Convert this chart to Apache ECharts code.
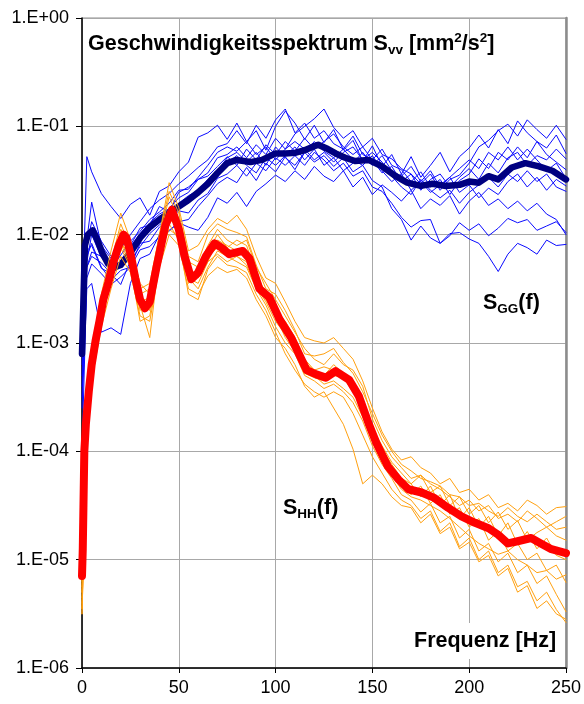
<!DOCTYPE html>
<html style="height: 100%">
<head>
<meta charset="utf-8">
</head>
<body style="height: 100%; margin: 0; background: #fff">
<div id="container" style="width: 584px; height: 704px"></div>
<script type="text/javascript" src="https://cdn.jsdelivr.net/npm/echarts@6.0.0/dist/echarts.min.js"></script>
<script type="text/javascript">
var yTickLabels = ['1.E+00', '1.E-01', '1.E-02', '1.E-03', '1.E-04', '1.E-05', '1.E-06'];

// frequency grid of the single measurements [Hz]
var freqThin = [0, 2.5, 5, 10, 15, 20, 25, 30, 35, 40, 45, 50, 55, 60, 65, 70, 75, 80, 85, 90, 95, 100,
    105, 110, 115, 120, 125, 130, 135, 140, 145, 150, 155, 160, 165, 170, 175, 180, 185, 190, 195, 200,
    205, 210, 215, 220, 225, 230, 235, 240, 245, 250];

// S_GG single runs (blue)
var sgg01 = [-2.8,-1.28,-1.42,-1.62,-1.74,-1.85,-1.72,-1.66,-1.82,-1.6,-1.55,-1.42,-1.33,-1.1,-1.06,-0.99,-1.12,-0.97,-1.14,-1.04,-1.22,-1.0,-0.86,-0.97,-1.12,-0.99,-1.15,-1.03,-1.22,-1.13,-1.32,-1.18,-1.37,-1.26,-1.44,-1.28,-1.47,-1.36,-1.24,-1.42,-1.28,-1.2,-1.08,-1.2,-1.03,-1.16,-0.95,-1.06,-1.14,-1.2,-1.08,-1.25];
var sgg02 = [-3.6,-2.5,-2.45,-2.9,-2.86,-2.92,-2.45,-2.22,-2.18,-2.0,-1.97,-1.88,-1.86,-1.74,-1.64,-1.53,-1.47,-1.52,-1.38,-1.5,-1.34,-1.42,-1.28,-1.4,-1.24,-1.33,-1.27,-1.37,-1.29,-1.42,-1.36,-1.5,-1.56,-1.76,-1.86,-2.05,-1.92,-2.03,-2.08,-1.99,-1.98,-2.04,-2.08,-2.2,-2.34,-2.18,-2.08,-2.12,-2.18,-2.05,-2.1,-2.09];
var sgg03 = [-3.2,-2.2,-2.08,-2.3,-2.42,-2.33,-2.3,-2.08,-2.06,-1.93,-1.86,-1.78,-1.8,-1.68,-1.62,-1.48,-1.44,-1.36,-1.46,-1.34,-1.41,-1.29,-1.36,-1.27,-1.36,-1.24,-1.31,-1.41,-1.34,-1.46,-1.41,-1.56,-1.6,-1.71,-1.84,-1.93,-1.87,-1.86,-2.08,-2.01,-1.89,-1.96,-1.9,-2.01,-1.94,-1.85,-1.89,-1.86,-1.96,-1.92,-1.88,-1.98];
var sgg04 = [-2.9,-2.1,-1.88,-2.06,-2.2,-2.13,-2.0,-1.88,-1.76,-1.68,-1.62,-1.53,-1.46,-1.38,-1.31,-1.19,-1.16,-1.04,-1.16,-0.99,-1.11,-0.94,-0.84,-1.06,-0.97,-1.11,-1.04,-1.16,-1.21,-1.09,-1.26,-1.31,-1.21,-1.36,-1.4,-1.51,-1.42,-1.56,-1.49,-1.63,-1.5,-1.44,-1.3,-1.39,-1.24,-1.31,-1.19,-1.29,-1.14,-1.26,-1.33,-1.4];
var sgg05 = [-3.4,-2.3,-2.16,-2.2,-2.32,-2.24,-2.11,-1.99,-1.89,-1.81,-1.76,-1.66,-1.61,-1.49,-1.43,-1.29,-1.26,-1.19,-1.29,-1.17,-1.26,-1.11,-1.21,-1.07,-1.0,-0.93,-0.84,-1.01,-1.11,-1.04,-1.19,-1.11,-1.26,-1.3,-1.39,-1.44,-1.53,-1.44,-1.59,-1.49,-1.45,-1.34,-1.19,-1.13,-1.04,-0.98,-1.09,-0.94,-1.03,-1.11,-0.99,-1.12];
var sgg06 = [-4.0,-2.4,-2.27,-2.36,-2.46,-2.39,-2.3,-2.14,-2.11,-2.02,-1.96,-1.89,-1.93,-1.96,-1.84,-1.66,-1.71,-1.61,-1.74,-1.6,-1.53,-1.45,-1.51,-1.41,-1.49,-1.37,-1.46,-1.51,-1.41,-1.56,-1.47,-1.63,-1.54,-1.61,-1.69,-1.59,-1.76,-1.67,-1.73,-1.64,-1.81,-1.69,-1.61,-1.73,-1.67,-1.76,-1.69,-1.78,-1.71,-1.81,-1.86,-2.0];
var sgg07 = [-3.0,-2.05,-1.7,-2.1,-2.22,-2.28,-2.1,-1.94,-1.91,-1.74,-1.79,-1.61,-1.56,-1.49,-1.46,-1.37,-1.28,-1.36,-1.21,-1.31,-1.17,-1.26,-1.14,-1.23,-1.11,-1.21,-1.14,-1.07,-1.19,-1.26,-1.19,-1.31,-1.43,-1.37,-1.51,-1.44,-1.59,-1.49,-1.44,-1.56,-1.47,-1.39,-1.49,-1.34,-1.43,-1.29,-1.24,-1.36,-1.27,-1.31,-1.21,-1.3];
var sgg08 = [-3.5,-2.3,-2.2,-2.26,-2.36,-2.29,-2.21,-2.04,-1.96,-1.87,-1.83,-1.74,-1.71,-1.59,-1.56,-1.47,-1.34,-1.27,-1.36,-1.43,-1.29,-1.36,-1.27,-1.19,-1.31,-1.21,-1.36,-1.29,-1.41,-1.34,-1.24,-1.36,-1.27,-1.41,-1.46,-1.37,-1.51,-1.41,-1.56,-1.47,-1.61,-1.54,-1.66,-1.57,-1.63,-1.51,-1.44,-1.56,-1.47,-1.59,-1.49,-1.55];
var sgg09 = [-2.7,-2.15,-2.1,-2.31,-2.36,-2.46,-2.24,-2.11,-1.99,-1.91,-1.84,-1.71,-1.64,-1.59,-1.49,-1.41,-1.29,-1.24,-1.33,-1.24,-1.36,-1.19,-1.29,-1.36,-1.24,-1.14,-1.23,-1.29,-1.21,-1.31,-1.36,-1.27,-1.41,-1.51,-1.44,-1.59,-1.51,-1.61,-1.54,-1.47,-1.39,-1.31,-1.39,-1.24,-1.31,-1.19,-1.31,-1.21,-1.31,-1.41,-1.34,-1.48];
var sgg10 = [-3.3,-2.25,-2.0,-2.21,-2.31,-2.19,-2.06,-1.97,-1.86,-1.79,-1.71,-1.59,-1.58,-1.47,-1.36,-1.24,-1.19,-1.23,-1.14,-1.26,-1.19,-1.31,-1.21,-1.14,-1.21,-1.31,-1.24,-1.33,-1.24,-1.19,-1.31,-1.24,-1.33,-1.46,-1.56,-1.63,-1.49,-1.59,-1.66,-1.59,-1.71,-1.61,-1.54,-1.47,-1.56,-1.44,-1.51,-1.41,-1.51,-1.44,-1.56,-1.6];

// S_HH single runs (orange)
var shh01 = [-5.3,-3.6,-3.05,-2.55,-2.15,-1.8,-2.05,-2.5,-2.45,-2.0,-1.52,-1.75,-2.15,-2.1,-1.95,-1.85,-1.9,-1.82,-1.95,-2.2,-2.4,-2.45,-2.62,-2.8,-2.95,-2.98,-3.0,-2.95,-3.05,-3.15,-3.35,-3.6,-3.82,-3.98,-4.08,-4.05,-4.15,-4.2,-4.3,-4.25,-4.38,-4.35,-4.45,-4.4,-4.52,-4.48,-4.55,-4.45,-4.5,-4.58,-4.52,-4.51];
var shh02 = [-5.5,-3.9,-3.35,-2.85,-2.5,-2.2,-2.35,-2.75,-2.8,-2.3,-2.0,-2.1,-2.5,-2.55,-2.38,-2.3,-2.35,-2.32,-2.4,-2.6,-2.75,-2.95,-3.05,-3.2,-3.4,-3.5,-3.45,-3.6,-3.75,-3.98,-4.3,-4.22,-4.3,-4.42,-4.5,-4.52,-4.66,-4.58,-4.76,-4.7,-4.9,-4.84,-5.02,-4.96,-5.15,-5.08,-5.3,-5.24,-5.45,-5.38,-5.5,-5.55];
var shh03 = [-5.2,-3.75,-3.25,-2.7,-2.35,-2.0,-2.2,-2.65,-2.95,-2.2,-1.75,-1.9,-2.35,-2.4,-2.15,-2.0,-2.12,-2.05,-2.1,-2.35,-2.55,-2.7,-2.8,-2.95,-3.15,-3.25,-3.3,-3.2,-3.28,-3.35,-3.55,-3.78,-3.95,-4.1,-4.2,-4.3,-4.22,-4.38,-4.32,-4.5,-4.42,-4.58,-4.5,-4.66,-4.56,-4.72,-4.64,-4.82,-4.75,-4.7,-4.78,-4.82];
var shh04 = [-5.45,-3.8,-3.3,-2.75,-2.4,-2.1,-2.15,-2.55,-2.7,-2.25,-1.85,-1.95,-2.4,-2.5,-2.3,-2.15,-2.2,-2.25,-2.3,-2.5,-2.65,-2.85,-3.0,-3.1,-3.3,-3.35,-3.42,-3.38,-3.45,-3.55,-3.72,-3.95,-4.12,-4.25,-4.4,-4.45,-4.56,-4.48,-4.66,-4.6,-4.8,-4.72,-4.92,-4.85,-5.02,-4.94,-5.12,-5.05,-5.22,-5.15,-5.32,-5.48];
var shh05 = [-5.35,-3.65,-3.15,-2.62,-2.3,-1.95,-2.1,-2.45,-2.55,-2.05,-1.65,-1.85,-2.25,-2.3,-2.1,-1.95,-2.05,-2.1,-2.05,-2.3,-2.45,-2.6,-2.75,-2.9,-3.05,-3.15,-3.2,-3.1,-3.2,-3.25,-3.4,-3.7,-3.9,-4.05,-4.15,-4.25,-4.22,-4.3,-4.35,-4.42,-4.5,-4.45,-4.55,-4.5,-4.62,-4.58,-4.65,-4.55,-4.62,-4.7,-4.65,-4.6];
var shh06 = [-5.4,-3.7,-3.2,-2.68,-2.38,-2.05,-2.25,-2.7,-2.6,-2.1,-1.8,-2.0,-2.45,-2.35,-2.2,-2.12,-2.18,-2.2,-2.25,-2.45,-2.6,-2.75,-2.95,-3.08,-3.28,-3.32,-3.35,-3.3,-3.32,-3.45,-3.62,-3.88,-4.05,-4.2,-4.32,-4.4,-4.32,-4.48,-4.4,-4.58,-4.52,-4.7,-4.62,-4.82,-4.74,-4.92,-4.85,-5.0,-4.94,-5.1,-5.05,-5.21];
var shh07 = [-5.25,-3.72,-3.22,-2.72,-2.32,-2.02,-2.2,-2.6,-2.65,-2.15,-1.78,-1.92,-2.3,-2.4,-2.25,-2.05,-2.1,-2.15,-2.2,-2.38,-2.55,-2.65,-2.82,-3.0,-3.18,-3.25,-3.22,-3.25,-3.3,-3.38,-3.58,-3.8,-3.98,-4.12,-4.25,-4.3,-4.42,-4.32,-4.5,-4.4,-4.62,-4.52,-4.7,-4.6,-4.78,-4.66,-4.86,-4.74,-4.9,-4.8,-4.96,-5.0];
var shh08 = [-5.5,-3.85,-3.28,-2.78,-2.42,-2.12,-2.3,-2.8,-2.75,-2.25,-1.9,-2.05,-2.55,-2.6,-2.32,-2.2,-2.28,-2.3,-2.35,-2.55,-2.7,-2.9,-3.1,-3.25,-3.38,-3.45,-3.5,-3.45,-3.5,-3.65,-3.85,-4.05,-4.2,-4.35,-4.45,-4.5,-4.62,-4.55,-4.74,-4.66,-4.88,-4.8,-5.0,-4.92,-5.12,-5.05,-5.25,-5.2,-5.38,-5.3,-5.46,-5.58];
var shh09 = [-5.3,-3.68,-3.18,-2.6,-2.25,-1.9,-2.12,-2.55,-2.5,-2.0,-1.6,-1.8,-2.2,-2.25,-2.0,-1.9,-1.95,-1.98,-2.02,-2.28,-2.5,-2.55,-2.7,-2.88,-3.1,-3.12,-3.1,-3.05,-3.18,-3.28,-3.45,-3.65,-3.85,-4.0,-4.12,-4.18,-4.25,-4.28,-4.32,-4.4,-4.42,-4.5,-4.48,-4.55,-4.6,-4.52,-4.6,-4.65,-4.58,-4.65,-4.72,-4.7];
var shh10 = [-5.45,-3.78,-3.25,-2.7,-2.4,-2.08,-2.28,-2.62,-2.58,-2.18,-1.95,-2.02,-2.4,-2.45,-2.25,-2.18,-2.25,-2.2,-2.28,-2.48,-2.62,-2.8,-2.92,-3.05,-3.25,-3.3,-3.38,-3.35,-3.42,-3.5,-3.68,-3.9,-4.08,-4.22,-4.35,-4.42,-4.45,-4.5,-4.55,-4.62,-4.7,-4.78,-4.85,-4.9,-4.95,-4.92,-5.0,-5.05,-5.12,-5.1,-5.18,-5.14];

// averaged spectra (thick lines)
var sggMeanFreq = [0, 1.5, 3, 5.5, 8, 10.5, 13.5, 17, 20, 22.5, 26, 30, 35, 40, 45, 50, 55, 60, 65, 70, 75, 80, 87, 93, 100,
    105, 110, 115, 119, 122, 127, 131, 136, 141, 148, 155, 162, 168, 175, 181, 188, 195, 200, 205, 210, 215, 222, 229, 236, 243, 250];
var sggMeanLog = [-3.1,-2.1,-2.0,-1.96,-2.05,-2.17,-2.27,-2.3,-2.28,-2.22,-2.14,-2.03,-1.93,-1.86,-1.8,-1.74,-1.68,-1.61,-1.53,-1.43,-1.34,-1.31,-1.33,-1.31,-1.25,
    -1.25,-1.245,-1.22,-1.19,-1.17,-1.21,-1.25,-1.29,-1.32,-1.31,-1.37,-1.46,-1.52,-1.55,-1.53,-1.55,-1.54,-1.51,-1.52,-1.46,-1.49,-1.38,-1.34,-1.37,-1.41,-1.49];
var shhMeanFreq = [0, 0.4, 1.2, 2, 3.5, 5, 7, 9, 11, 13.5, 16.3, 19, 21.5, 23, 25, 27.5, 30, 32.5, 35, 38.6, 43, 46.5, 50, 53, 56.5, 60, 64, 68.5, 72, 76,
    83, 86.5, 91.6, 96.8, 102, 108, 112, 116, 121, 126, 131, 138, 143, 148, 152, 158, 163.5, 168.6, 175.4, 182, 189, 196, 203, 210, 215, 220, 225, 232, 237, 242, 250];
var shhMeanLog = [-5.15,-4.9,-4.0,-3.75,-3.45,-3.2,-2.98,-2.8,-2.6,-2.45,-2.25,-2.1,-2.0,-2.03,-2.17,-2.4,-2.6,-2.68,-2.62,-2.29,-1.92,-1.77,-1.95,-2.2,-2.41,-2.35,-2.2,-2.08,-2.12,-2.18,
    -2.15,-2.22,-2.5,-2.58,-2.78,-2.95,-3.1,-3.25,-3.29,-3.32,-3.26,-3.34,-3.49,-3.74,-3.92,-4.14,-4.26,-4.35,-4.38,-4.43,-4.52,-4.6,-4.66,-4.71,-4.77,-4.85,-4.83,-4.8,-4.85,-4.9,-4.94];

var sggRuns = [sgg01, sgg02, sgg03, sgg04, sgg05, sgg06, sgg07, sgg08, sgg09, sgg10];
var shhRuns = [shh01, shh02, shh03, shh04, shh05, shh06, shh07, shh08, shh09, shh10];

var FONT = '"Liberation Sans", Arial, sans-serif';

function toPairs(freq, logs) {
    var out = [];
    for (var i = 0; i < freq.length; i++) {
        out.push([freq[i], Math.pow(10, logs[i])]);
    }
    return out;
}

function lineSeries(data, color, width, z) {
    return {
        type: 'line',
        data: data,
        symbol: 'none',
        silent: true,
        z: z,
        lineStyle: { color: color, width: width, cap: 'round', join: 'round' }
    };
}

var series = [];
sggRuns.forEach(function (r) { series.push(lineSeries(toPairs(freqThin, r), '#0a0aff', 1, 2)); });
series.push(lineSeries(toPairs(sggMeanFreq, sggMeanLog), '#000080', 6.5, 3));
shhRuns.forEach(function (r) { series.push(lineSeries(toPairs(freqThin, r), '#ffa010', 1, 4)); });
series.push(lineSeries(toPairs(shhMeanFreq, shhMeanLog), '#ff0000', 8, 5));

var bold = { fontFamily: FONT, fontWeight: 'bold', fontSize: 21.5, lineHeight: 26, color: '#000' };
var sub = { fontFamily: FONT, fontWeight: 'bold', fontSize: 13.5, lineHeight: 14, verticalAlign: 'bottom', color: '#000' };
var sup = { fontFamily: FONT, fontWeight: 'bold', fontSize: 13.5, lineHeight: 14, verticalAlign: 'top', color: '#000' };
var richText = { m: bold, sub: sub, sup: sup };

var dom = document.getElementById('container');
var myChart = echarts.init(dom, null, { renderer: 'canvas' });

var option = {
    backgroundColor: '#fff',
    animation: false,
    title: [
        {
            text: '{m|Geschwindigkeitsspektrum S}{sub|vv}{m| [mm}{sup|2}{m|/s}{sup|2}{m|]}',
            left: 88, top: 31, padding: 0,
            textStyle: { rich: richText }
        },
        {
            text: '{m|S}{sub|GG}{m|(f)}',
            left: 483, top: 290, padding: 0,
            textStyle: { rich: richText }
        },
        {
            text: '{m|S}{sub|HH}{m|(f)}',
            left: 283, top: 495, padding: 0,
            textStyle: { rich: richText }
        },
        {
            text: '{m|Frequenz [Hz]}',
            left: 410, top: 621, padding: [7, 4, 7, 4],
            backgroundColor: '#fff',
            textStyle: { rich: richText }
        }
    ],
    grid: {
        left: 82, top: 18, width: 486, height: 650,
        show: true, borderColor: '#8c8c8c', borderWidth: 1
    },
    xAxis: {
        type: 'value',
        min: 0, max: 250, interval: 50,
        axisLine: { lineStyle: { color: '#000', width: 1.5 } },
        axisTick: { show: true, inside: false, length: 5, lineStyle: { color: '#000' } },
        axisLabel: { color: '#000', fontSize: 18, fontFamily: FONT, margin: 11 },
        splitLine: { show: true, lineStyle: { color: '#a8a8a8', width: 1 } }
    },
    yAxis: [
        {
            type: 'log', logBase: 10,
            min: 1e-6, max: 1, splitNumber: 6,
            axisLine: { show: true, lineStyle: { color: '#000', width: 1.5 } },
            axisTick: { show: true, inside: false, length: 6, lineStyle: { color: '#000' } },
            minorTick: { show: false },
            axisLabel: {
                color: '#000', fontSize: 18, fontFamily: FONT, margin: 13,
                formatter: function (v) {
                    return yTickLabels[-Math.round(Math.log10(v))];
                }
            },
            splitLine: { show: true, lineStyle: { color: '#a8a8a8', width: 1 } }
        },
        {
            type: 'log', logBase: 10, position: 'right',
            min: 1e-6, max: 1,
            axisLine: { show: true, lineStyle: { color: '#8c8c8c', width: 2.5 } },
            axisTick: { show: false },
            axisLabel: { show: false },
            splitLine: { show: false }
        }
    ],
    series: series
};

myChart.setOption(option, true);
</script>
</body>
</html>
